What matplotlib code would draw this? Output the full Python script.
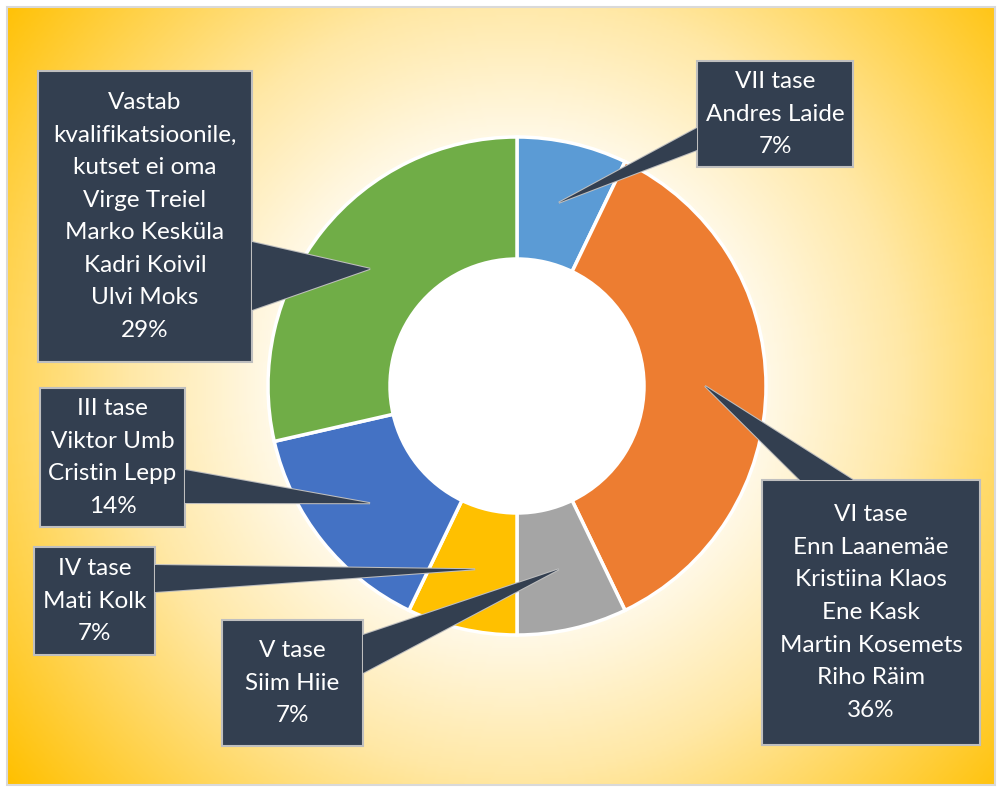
import numpy as np
import matplotlib.pyplot as plt
from matplotlib.patches import Rectangle, Polygon
from matplotlib.colors import LinearSegmentedColormap

plt.rcParams['font.family'] = ['Lato', 'DejaVu Sans']

# andmed
levels = ['VII tase', 'VI tase', 'V tase', 'IV tase', 'III tase',
          'Vastab\nkvalifikatsioonile,\nkutset ei oma']
people = [['Andres Laide'],
          ['Enn Laanemäe', 'Kristiina Klaos', 'Ene Kask', 'Martin Kosemets', 'Riho Räim'],
          ['Siim Hiie'],
          ['Mati Kolk'],
          ['Viktor Umb', 'Cristin Lepp'],
          ['Virge Treiel', 'Marko Kesküla', 'Kadri Koivil', 'Ulvi Moks']]
counts = [1, 5, 1, 1, 2, 4]
colors = ['#5B9BD5', '#ED7D31', '#A5A5A5', '#FFC000', '#4472C4', '#70AD47']

W, H = 1000, 789

# kastide asukohad pikslites (x0, y0, x1, y1), y ülevalt alla
boxes = [(697, 61, 853, 167),
         (762, 480, 980, 745),
         (222, 620, 363, 746),
         (34, 547, 155, 655),
         (40, 388, 185, 527),
         (38, 71, 252, 362)]
# osuti alus kasti serval (kaks punkti)
bases = [((697, 128), (697, 150)),
         ((800, 480), (853, 480)),
         ((363, 635), (363, 673)),
         ((155, 565), (155, 592)),
         ((185, 470), (185, 503)),
         ((252, 242), (252, 310))]


def Y(y):
    return H - y


fig = plt.figure(figsize=(W / 100, H / 100), dpi=100)
ax = fig.add_axes([0, 0, 1, 1])

cx, cy, R, r_in = 517, Y(386), 249, 127

# taust: radiaalne gradient
fx0, fy0, fx1, fy1 = 7, 7, 995, 785
gx = np.linspace(fx0, fx1, 400)
gy = np.linspace(fy0, fy1, 320)
GX, GY = np.meshgrid(gx, gy)
dist = np.hypot(GX - cx, Y(GY) - cy)
dist = dist / dist.max()
cmap = LinearSegmentedColormap.from_list('bg', [(0, '#FFFFFF'), (0.3, '#FFFFFF'),
                                                (0.6, '#FFE8A6'), (1.0, '#FFC000')])
ax.imshow(dist, cmap=cmap, extent=(fx0, fx1, Y(fy1), Y(fy0)), origin='upper',
          zorder=0, aspect='auto', interpolation='bilinear')
ax.add_patch(Rectangle((fx0, Y(fy1)), fx1 - fx0, fy1 - fy0, fill=False,
                       edgecolor='#D9D9D9', linewidth=1.5, zorder=1))

wedges, _ = ax.pie(counts, colors=colors, startangle=90, counterclock=False,
                   center=(cx, cy), radius=R,
                   wedgeprops=dict(width=R - r_in, edgecolor='white', linewidth=2.5))
for w in wedges:
    w.set_zorder(2)

total = sum(counts)
box_face = '#333F50'
box_edge = '#BFBFBF'
for i, w in enumerate(wedges):
    ang = np.deg2rad((w.theta1 + w.theta2) / 2)
    rm = (R + r_in) / 2
    tip = (cx + rm * np.cos(ang), cy + rm * np.sin(ang))
    (bx0, by0), (bx1, by1) = bases[i]
    tri = [(bx0, Y(by0)), tip, (bx1, Y(by1))]
    ax.add_patch(Polygon(tri, closed=True, facecolor=box_face, edgecolor=box_edge,
                         linewidth=1.5, zorder=3))
    x0, y0, x1, y1 = boxes[i]
    ax.add_patch(Rectangle((x0, Y(y1)), x1 - x0, y1 - y0, facecolor=box_face,
                           edgecolor=box_edge, linewidth=1.5, zorder=4))
    ax.add_patch(Polygon(tri, closed=True, facecolor=box_face, edgecolor='none',
                         zorder=5))
    pct = round(100 * counts[i] / total)
    txt = '\n'.join([levels[i]] + people[i] + [f'{pct}%'])
    ax.text((x0 + x1) / 2, Y((y0 + y1) / 2), txt, ha='center', va='center',
            color='white', fontsize=17.5, linespacing=1.68, zorder=6)

ax.set_xlim(0, W)
ax.set_ylim(0, H)
ax.set_aspect('auto')
ax.axis('off')

fig.savefig('out.png', dpi=100, facecolor='white')
